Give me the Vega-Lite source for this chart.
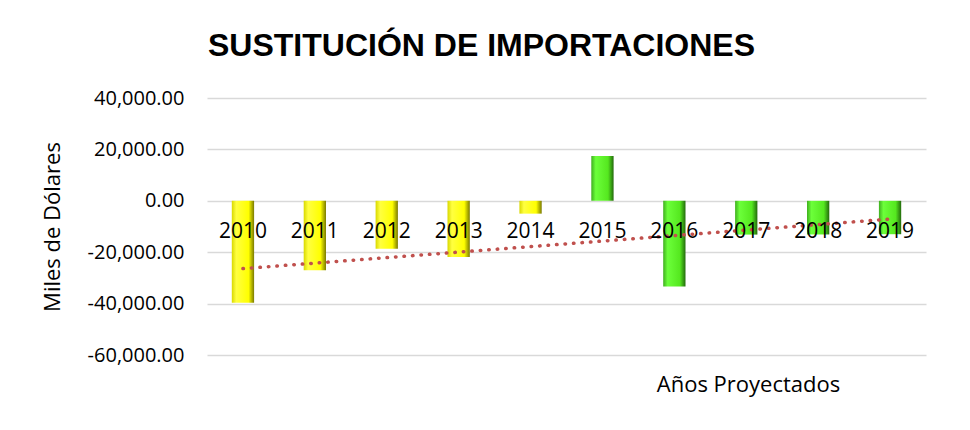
{
  "$schema": "https://vega.github.io/schema/vega-lite/v6.json",
  "autosize": {"type": "none"},
  "width": 719,
  "height": 257,
  "padding": {"left": 207, "top": 98, "right": 44, "bottom": 75},
  "background": "white",
  "config": {"view": {"stroke": null}},
  "title": {
    "text": "SUSTITUCIÓN DE IMPORTACIONES",
    "font": "Liberation Sans",
    "fontSize": 32,
    "fontWeight": "bold",
    "color": "black",
    "anchor": "middle",
    "frame": "group",
    "dx": -85,
    "offset": 25
  },
  "data": {
    "values": [
      {"year": 2010, "value": -39700},
      {"year": 2011, "value": -27000},
      {"year": 2012, "value": -18700},
      {"year": 2013, "value": -21900},
      {"year": 2014, "value": -5000},
      {"year": 2015, "value": 17400},
      {"year": 2016, "value": -33300},
      {"year": 2017, "value": -13150},
      {"year": 2018, "value": -13100},
      {"year": 2019, "value": -13000}
    ]
  },
  "encoding": {
    "x": {
      "field": "year",
      "type": "ordinal",
      "scale": {"paddingInner": 0.69, "paddingOuter": 0.345},
      "axis": {
        "title": "Años Proyectados",
        "titleFont": "Open Sans",
        "titleFontSize": 22,
        "titleFontWeight": "normal",
        "titleColor": "black",
        "titleX": 541,
        "titleY": 190,
        "titleAlign": "center",
        "titleBaseline": "alphabetic",
        "labelAngle": 0,
        "labelFont": "Open Sans",
        "labelFontSize": 21,
        "labelColor": "black",
        "labelPadding": 19,
        "ticks": false,
        "domain": false,
        "offset": -154,
        "zindex": 1
      }
    },
    "y": {
      "field": "value",
      "type": "quantitative",
      "scale": {"domain": [-60000, 40000], "nice": false},
      "axis": {
        "title": "Miles de Dólares",
        "titleFont": "Open Sans",
        "titleFontSize": 22,
        "titleFontWeight": "normal",
        "titleColor": "black",
        "titleAngle": -90,
        "titleX": -155,
        "titleY": 128.5,
        "titleAlign": "center",
        "titleBaseline": "middle",
        "values": [-60000, -40000, -20000, 0, 20000, 40000],
        "format": ",.2f",
        "labelExpr": "replace(datum.label, '\u2212', '-')",
        "labelFont": "Open Sans",
        "labelFontSize": 20,
        "labelColor": "black",
        "labelPadding": 23,
        "ticks": false,
        "domain": false,
        "grid": true,
        "gridColor": "#D9D9D9",
        "gridWidth": 1.5
      }
    }
  },
  "layer": [
    {
      "transform": [{"filter": "datum.year <= 2014"}],
      "mark": {
        "type": "bar",
        "color": {
          "gradient": "linear",
          "x1": 0, "y1": 0, "x2": 1, "y2": 0,
          "stops": [
            {"offset": 0, "color": "#D8D800"},
            {"offset": 0.2, "color": "#FFFF40"},
            {"offset": 0.75, "color": "#FFFF00"},
            {"offset": 1, "color": "#7A7A00"}
          ]
        }
      }
    },
    {
      "transform": [{"filter": "datum.year > 2014"}],
      "mark": {
        "type": "bar",
        "color": {
          "gradient": "linear",
          "x1": 0, "y1": 0, "x2": 1, "y2": 0,
          "stops": [
            {"offset": 0, "color": "#3FAF1F"},
            {"offset": 0.2, "color": "#6CFF3A"},
            {"offset": 0.75, "color": "#55E81F"},
            {"offset": 1, "color": "#236A0C"}
          ]
        }
      }
    },
    {
      "transform": [{"regression": "value", "on": "year"}],
      "mark": {
        "type": "line",
        "color": "#C0504D",
        "strokeWidth": 3.5,
        "strokeCap": "round",
        "strokeDash": [0.5, 8]
      }
    }
  ]
}
